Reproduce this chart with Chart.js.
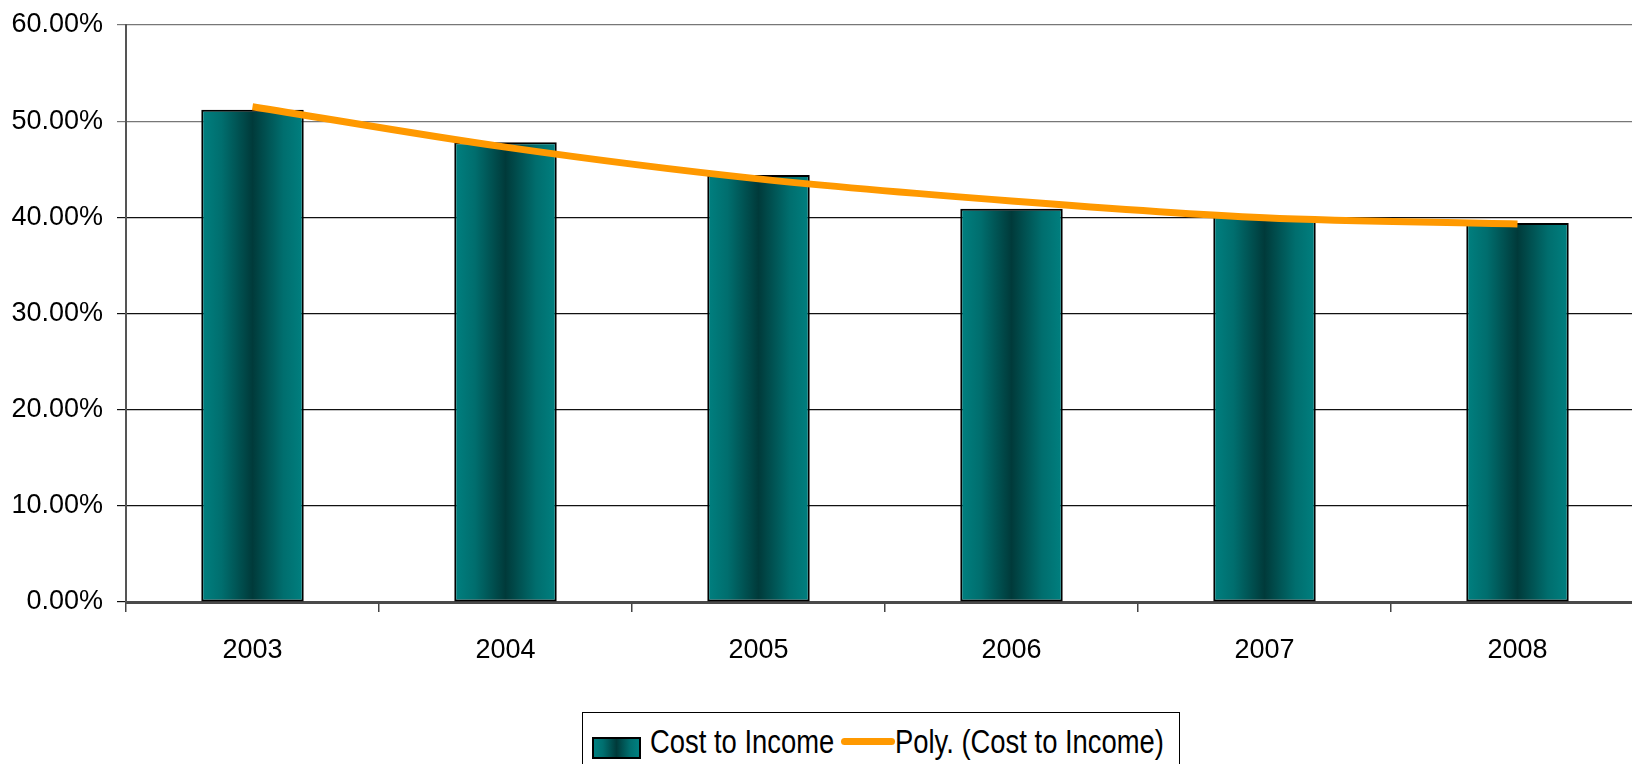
<!DOCTYPE html>
<html>
<head>
<meta charset="utf-8">
<script src="https://cdn.jsdelivr.net/npm/chart.js@4/dist/chart.umd.min.js"></script>
<style>
  html, body { margin: 0; padding: 0; background: #fff; overflow: hidden; }
  .wrap { position: relative; width: 1632px; height: 764px; overflow: hidden; }
  #myChart { position: absolute; left: 0; top: 0; }
  .legendBox {
    position: absolute; left: 582px; top: 712px; width: 596px; height: 62px;
    border: 1px solid #000; background: #fff;
    font-family: 'Liberation Sans', Arial, sans-serif;
    font-size: 33px; color: #000;
  }
  .legendBox .swatch {
    position: absolute; left: 9px; top: 24px; width: 45px; height: 18px;
    border: 2px solid #000;
    background: linear-gradient(to right, #008080 0%, #006f6f 20%, #003a3a 50%, #006f6f 80%, #008080 100%);
  }
  .legendBox .line {
    position: absolute; left: 258px; top: 25px; width: 54px; height: 7px;
    border-radius: 4px; background: #ff9900;
  }
  .legendBox span {
    position: absolute; top: 10px; white-space: nowrap; line-height: 38px;
    transform: scaleX(0.83); transform-origin: left top;
  }
  .legendBox .t1 { left: 67px; }
  .legendBox .t2 { left: 312px; }
</style>
</head>
<body>
<div class="wrap">
  <canvas id="myChart" width="1644" height="764"></canvas>
  <div class="legendBox">
    <div class="swatch"></div><span class="t1">Cost to Income</span>
    <div class="line"></div><span class="t2">Poly. (Cost to Income)</span>
  </div>
</div>
<script>
// values (percent)
const years = ["2003", "2004", "2005", "2006", "2007", "2008"];
const costToIncome = [51.2, 47.8, 44.4, 40.9, 40.1, 39.4];
const polyTrend = [51.5, 47.3, 44.0, 41.7, 39.95, 39.3];
const yTicks = [0, 10, 20, 30, 40, 50, 60];

const barFrac = 0.405;

function barGradient(context) {
    const chart = context.chart;
    const xScale = chart.scales.x;
    if (!xScale || context.dataIndex === undefined) return '#008080';
    const cx = xScale.getPixelForValue(context.dataIndex);
    const w = xScale.width / years.length * barFrac;
    if (!isFinite(cx) || !isFinite(w) || w <= 0) return '#008080';
    const g = chart.ctx.createLinearGradient(cx - w / 2, 0, cx + w / 2, 0);
    g.addColorStop(0, '#008080');
    g.addColorStop(0.2, '#006e6e');
    g.addColorStop(0.5, '#003a3a');
    g.addColorStop(0.8, '#006e6e');
    g.addColorStop(1, '#008080');
    return g;
}

const ctx = document.getElementById('myChart');
const myChart = new Chart(ctx, {
    data: {
        labels: years,
        datasets: [
            {
                type: 'line',
                label: 'Poly. (Cost to Income)',
                data: polyTrend,
                borderColor: '#ff9900',
                borderWidth: 7,
                pointRadius: 0,
                cubicInterpolationMode: 'monotone',
                order: 0
            },
            {
                type: 'bar',
                label: 'Cost to Income',
                data: costToIncome,
                backgroundColor: barGradient,
                borderColor: '#000',
                borderWidth: 2,
                borderSkipped: false,
                barPercentage: 0.81,
                categoryPercentage: 0.5,
                order: 1
            }
        ]
    },
    options: {
        responsive: false,
        animation: false,
        layout: { padding: { top: 25, right: 0, bottom: 0, left: 0 } },
        plugins: {
            legend: { display: false },
            tooltip: { enabled: false }
        },
        scales: {
            x: {
                grid: {
                    offset: true,
                    drawOnChartArea: false,
                    drawTicks: true,
                    tickLength: 10,
                    color: '#444',
                    lineWidth: 1.5
                },
                border: { color: '#4a4a4a', width: 3 },
                ticks: {
                    color: '#000',
                    padding: 22,
                    font: { family: "'Liberation Sans', Arial, sans-serif", size: 27 }
                },
                afterFit: function(scale) { scale.height = 162; }
            },
            y: {
                min: 0,
                max: 60,
                afterBuildTicks: function(scale) {
                    scale.ticks = yTicks.map(v => ({ value: v }));
                },
                grid: {
                    color: function(c) { return c.tick && c.tick.value >= 50 ? '#777' : '#111'; },
                    lineWidth: 1.2,
                    tickLength: 9
                },
                border: { color: '#555', width: 2 },
                ticks: {
                    color: '#000',
                    padding: 14,
                    font: { family: "'Liberation Sans', Arial, sans-serif", size: 27 },
                    callback: function(v) { return v.toFixed(2) + '%'; }
                },
                afterFit: function(scale) {
                    scale.width = 126;
                    scale.paddingTop = 0;
                    scale.paddingBottom = 0;
                }
            }
        }
    }
});
</script>
</body>
</html>
